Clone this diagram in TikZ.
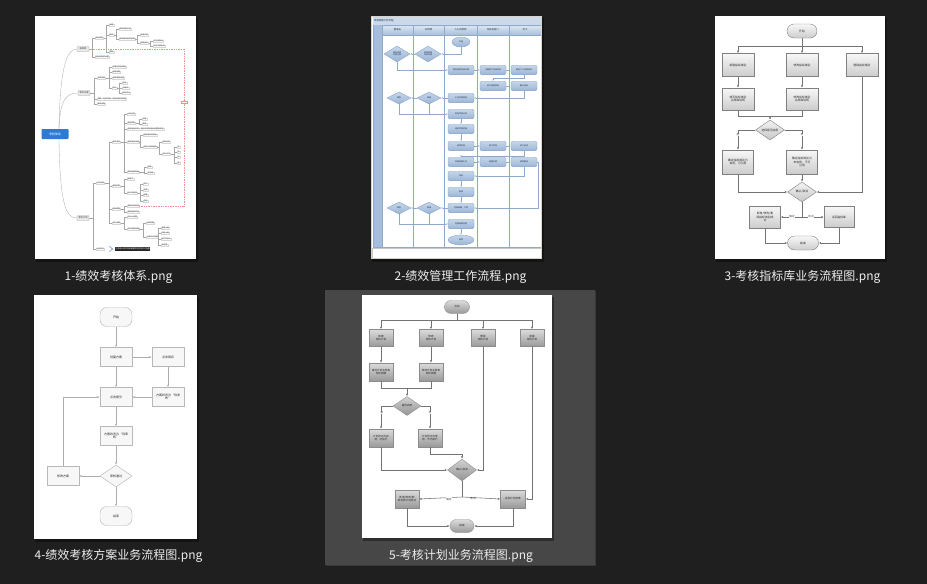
\documentclass[tikz,border=0pt]{standalone}
\usepackage{fontspec}
\setmainfont{Noto Sans CJK SC}
\usetikzlibrary{shapes.geometric,arrows.meta,calc}
\definecolor{bg}{HTML}{1F1F1F}
\definecolor{selbg}{HTML}{474747}
\definecolor{selbd}{HTML}{383838}
\definecolor{capcol}{HTML}{EDEDED}
\definecolor{lane}{HTML}{8FA9CB}
\definecolor{laneL}{HTML}{CBD9EB}
\definecolor{laneD}{HTML}{A6BEDB}
\definecolor{sboxT}{HTML}{C6D6EA}
\definecolor{sboxB}{HTML}{9BB5D6}
\definecolor{sboxD}{HTML}{86A2C7}
\definecolor{stext}{HTML}{1F3350}
\definecolor{frm}{HTML}{D6D3CC}
\definecolor{mmblue}{HTML}{2F7BD1}
\definecolor{mmred}{HTML}{F29090}
\newcommand\mmnode[5]{%
  \node[mml,anchor=west] (#2) at (#3,#4) {#5};
  \draw[mmln] (#1.east) -| ($(#2.west)+(-2.5,0)$) -- (#2.west);}
\begin{document}
\begin{tikzpicture}[x=1pt,y=-1pt,
  captxt/.style={text=capcol,font=\fontsize{12}{14}\selectfont,inner sep=0},
  ln/.style={draw=black!55,line width=0.55},
  arr/.style={ln,-{Latex[length=2.4,width=2]}},
  lbl/.style={font=\fontsize{2.6}{3}\selectfont,text=black!70,inner sep=0.3,fill=white},
  f5box/.style={rectangle,draw=black!45,line width=0.35,top color=black!14,bottom color=black!40,
    font=\fontsize{2.6}{3.1}\selectfont,text=black!85,align=center,inner sep=0.3,minimum width=24,minimum height=17},
  f5pill/.style={f5box,rounded corners=6.5,minimum width=25,minimum height=13},
  f5dia/.style={diamond,draw=black!45,line width=0.35,top color=black!18,bottom color=black!42,
    font=\fontsize{2.6}{3.1}\selectfont,text=black!85,align=center,inner sep=0,minimum width=28,minimum height=19},
  f3box/.style={rectangle,draw=black!50,line width=0.4,top color=black!3,bottom color=black!20,
    font=\fontsize{2.8}{3.3}\selectfont,text=black!85,align=center,inner sep=0.3,minimum width=32,minimum height=23},
  f3pill/.style={f3box,rounded corners=7,minimum width=30,minimum height=14},
  f3dia/.style={diamond,draw=black!50,line width=0.4,top color=black!5,bottom color=black!22,
    font=\fontsize{2.8}{3.3}\selectfont,text=black!85,align=center,inner sep=0,minimum width=29,minimum height=20},
  f4box/.style={rectangle,draw=black!28,line width=0.45,fill=black!3,
    font=\fontsize{3}{3.6}\selectfont,text=black!85,align=center,inner sep=0.3,minimum width=32,minimum height=19},
  f4pill/.style={f4box,rounded corners=7},
  f4dia/.style={f4box,diamond,minimum width=32,minimum height=22,inner sep=0},
  f4ln/.style={draw=black!32,line width=0.6,-{Latex[length=2.4,width=2]}},
  sbox/.style={rectangle,rounded corners=1.3,draw=sboxD,line width=0.35,top color=sboxT,bottom color=sboxB,
    font=\fontsize{2}{2.4}\selectfont,text=stext,align=center,inner sep=0.2,minimum width=26,minimum height=9.5},
  sell/.style={sbox,ellipse,minimum width=18,minimum height=10},
  sdia/.style={sbox,diamond,rounded corners=0,minimum width=26,minimum height=16,inner sep=0},
  sdias/.style={sdia,minimum width=24,minimum height=12},
  sln/.style={draw=lane,line width=0.5,-{Latex[length=1.6,width=1.3]}},
  slnn/.style={draw=lane,line width=0.5},
  shd/.style={font=\fontsize{2.4}{2.8}\selectfont,text=stext,inner sep=0},
  mml/.style={rectangle,draw=black!16,line width=0.25,fill=white,font=\fontsize{1.9}{2.2}\selectfont,
    text=black!65,inner xsep=0.4,inner ysep=0.35},
  mm1/.style={rectangle,rounded corners=0.8,draw=black!35,line width=0.3,fill=black!8,
    font=\fontsize{2.3}{2.6}\selectfont,text=black!80,minimum width=12,minimum height=5,inner sep=0.3},
  mmln/.style={draw=black!35,line width=0.3},
]
\fill[bg] (0,0) rectangle (927,584);
\useasboundingbox (0,0) rectangle (927,584);
% selection highlight
\fill[selbg] (325,290) rectangle (595,565);
\draw[selbd,line width=1] (595,290.5) -- (595,565) -- (325.5,565);
% thumbnails (shadow + page)
\foreach \a/\b/\c/\d in {35/16/196/259,371/16/542/259,715/16/885/259,34/295/197/539,362/295/552/538}{
  \fill[black,opacity=.35] (\a+1,\b+2) rectangle (\c+2,\d+3);
  \fill[white] (\a,\b) rectangle (\c,\d);}

% ================= 1: mind map =================
\node[rectangle,rounded corners=0.8,fill=mmblue,text=white,font=\fontsize{3}{3.4}\selectfont,
  minimum width=27,minimum height=10,inner sep=0] (mR) at (55,134) {考核体系};
\node[mm1] (mN1) at (83,49) {指标库};
\node[mm1] (mN2) at (84,93) {考核方案};
\node[mm1] (mN3) at (83,218) {考核计划};
\draw[mmln] ($(mR.north)+(4,0)$) .. controls (60,70) and (66,49) .. (mN1.west);
\draw[mmln] ($(mR.north)+(4,0)$) .. controls (60,100) and (66,93) .. (mN2.west);
\draw[mmln] ($(mR.south)+(4,0)$) .. controls (60,205) and (66,218) .. (mN3.west);
% N1
\mmnode{mN1}{ma1}{95}{38}{指标类别}
\mmnode{mN1}{ma2}{95}{57}{指标库权限设置}
\mmnode{ma1}{ma11}{109}{25}{新建}
\mmnode{ma1}{ma12}{109}{35}{修改}
\mmnode{ma1}{ma13}{109}{52}{删除}
\mmnode{ma12}{ma121}{119}{29}{修改类别名称}
\mmnode{ma12}{ma122}{119}{39}{修改指标类别说明}
\mmnode{ma122}{ma1221}{140}{35}{启用状态}
\mmnode{ma122}{ma1222}{140}{43}{停用状态}
\mmnode{ma1222}{ma12221}{153}{41}{可引用指标}
\mmnode{ma1222}{ma12222}{153}{46}{不可引用指标}
% N2
\mmnode{mN2}{mb1}{97}{78}{方案内容}
\mmnode{mN2}{mb2}{97}{99}{关联：考核对象、考核指标及权重}
\mmnode{mN2}{mb3}{97}{104}{审核流程}
\mmnode{mb1}{mb11}{112}{67}{方案名称及说明}
\mmnode{mb1}{mb12}{112}{72}{适用范围}
\mmnode{mb1}{mb13}{112}{78}{考核周期设置}
\mmnode{mb1}{mb14}{112}{88}{评分}
\mmnode{mb14}{mb141}{122}{83}{自评}
\mmnode{mb14}{mb142}{122}{88}{上级评}
\mmnode{mb14}{mb143}{122}{93}{综合评分}
% N3
\mmnode{mN3}{mc1}{96}{183}{计划内容}
\mmnode{mN3}{mc2}{96}{249}{计划执行}
\mmnode{mc1}{mc11}{112}{142}{基本信息}
\mmnode{mc1}{mc12}{112}{186}{考核对象}
\mmnode{mc1}{mc13}{112}{209}{考核周期}
\mmnode{mc1}{mc14}{112}{223}{评分设置}
\mmnode{mc11}{mc111}{127}{114}{计划名称}
\mmnode{mc11}{mc112}{127}{123}{考核类型}
\mmnode{mc11}{mc113}{127}{129}{考核指标名称、指标说明及指标权重等信息}
\mmnode{mc11}{mc114}{127}{142}{考核指标设置}
\mmnode{mc11}{mc115}{127}{172}{考核结果等级}
\mmnode{mc112}{mc1121}{142}{119}{月度}
\mmnode{mc112}{mc1122}{142}{124}{季度}
\mmnode{mc114}{mc1141}{143}{135}{选择指标库指标}
\mmnode{mc114}{mc1142}{143}{147}{自定义考核指标}
\mmnode{mc1142}{mc11421}{162}{142}{指标名称}
\mmnode{mc1142}{mc11422}{162}{154}{评分方式}
\mmnode{mc11422}{mc114221}{177}{147}{优}
\mmnode{mc11422}{mc114222}{177}{152}{良}
\mmnode{mc11422}{mc114223}{177}{157}{中}
\mmnode{mc11422}{mc114224}{177}{163}{差}
\mmnode{mc115}{mc1151}{147}{167}{合格}
\mmnode{mc115}{mc1152}{147}{173}{不合格}
\mmnode{mc12}{mc121}{127}{179}{按部门}
\mmnode{mc12}{mc122}{127}{193}{按人员选择}
\mmnode{mc122}{mc1221}{143}{184}{员工}
\mmnode{mc122}{mc1222}{143}{190}{主管}
\mmnode{mc122}{mc1223}{143}{195}{经理}
\mmnode{mc122}{mc1224}{143}{201}{总监}
\mmnode{mc13}{mc131}{127}{206}{考核开始时间}
\mmnode{mc13}{mc132}{127}{212}{考核结束时间}
\mmnode{mc14}{mc141}{127}{217}{评分人设置}
\mmnode{mc14}{mc142}{127}{229}{评分权重设置}
\mmnode{mc142}{mc1421}{146}{223}{自评权重}
\mmnode{mc142}{mc1422}{146}{237}{上级评分权重}
\mmnode{mc1422}{mc14221}{161}{228}{直接上级}
\mmnode{mc1422}{mc14222}{161}{233}{间接上级}
\mmnode{mc1422}{mc14223}{161}{239}{部门负责人}
\mmnode{mc1422}{mc14224}{161}{245}{总经理}
% relationship (red dashed)
\coordinate (mrc) at (184,128);
\draw[mmred,line width=0.35,dash pattern=on 1pt off 0.7pt] (mN1.east) -| (mrc) |- (mc131.east);
\node[rectangle,draw=mmred,line width=0.3,fill=white,font=\fontsize{1.9}{2.2}\selectfont,text=mmred,
  inner xsep=0.8,inner ysep=0.3] (mrl) at (184,102) {关联};
% summary brace + black box
\draw[mmblue,line width=0.45] (109.5,246.2) .. controls (111.5,246.2) and (110.5,249) .. (112.5,249)
  .. controls (110.5,249) and (111.5,251.8) .. (109.5,251.8);
\node[rectangle,fill=black!85,text=white,font=\fontsize{1.9}{2.2}\selectfont,minimum width=35,
  minimum height=4,inner sep=0.2,anchor=west] (msum) at (115,249) {已完成计划的考核结果即刻生效并可查看};

% ================= 2: swimlane =================
\fill[laneL] (372.5,17) rectangle (541,24.5);
\node[shd,anchor=west] (ttl2) at (374,20.8) {绩效管理工作流程};
\fill[laneD] (373,24.5) rectangle (382,247);
\shade[top color=laneL!60!white,bottom color=laneD] (382,25) rectangle (541,35);
\foreach \x in {382,413,444,477,509,541} \draw[lane,line width=0.6] (\x,25) -- (\x,247);
\draw[lane,line width=0.6] (373,247) -- (541,247) (382,35) -- (541,35) (382,25) -- (541,25) (373,24.5) -- (373,247);
\node[shd] (h1) at (397.5,30) {董事长};
\node[shd] (h2) at (428.5,30) {总经理};
\node[shd] (h3) at (460.5,30) {人力资源部};
\node[shd] (h4) at (493,30) {相关各部门};
\node[shd] (h5) at (525,30) {员工};
\draw[black!22,line width=0.6] (372.5,248.5) rectangle (541.5,258.5);
\draw[frm,line width=1.2] (371.6,16.6) rectangle (541.4,258.4);
\node[sell] (s2) at (461,42) {开始};
\node[sdia] (sd1) at (397,54) {审批绩效\\考核方案};
\node[sdia] (sd2) at (428,54) {审核绩效\\考核方案};
\node[sbox] (sb1) at (461,70) {制定绩效考核方案};
\node[sbox] (sb2) at (493,70) {分解部门考核目标};
\node[sbox] (sb3) at (524,70) {制定个人考核目标};
\node[sbox] (sb4) at (493,86) {部门审核目标};
\node[sbox] (sb5) at (524,86) {确认目标};
\node[sdias] (sd3) at (399,98) {审批};
\node[sdias] (sd4) at (429,98) {审核};
\node[sbox] (sb6) at (461,98) {汇总考核目标};
\node[sbox] (sb7) at (461,114) {发布考核计划};
\node[sbox] (sb8) at (461,129) {组织考核实施};
\node[sbox] (sb9) at (461,146) {绩效考核};
\node[sbox] (sb10) at (493,146) {部门考核};
\node[sbox] (sb11) at (524,146) {员工自评};
\node[sbox] (sb12) at (461,162) {考核结果汇总};
\node[sbox] (sb13) at (493,162) {结果反馈};
\node[sbox] (sb14) at (524,162) {绩效面谈};
\node[sbox] (sb15) at (461,176) {申诉};
\node[sbox] (sb16) at (461,192) {复核};
\node[sdias] (sd5) at (399,208) {审批};
\node[sdias] (sd6) at (429,208) {审核};
\node[sbox] (sb17) at (461,208) {考核结果、工资};
\node[sbox] (sb18) at (461,224) {考核结果应用};
\node[sell,minimum width=26] (se2) at (461,240) {结束};
\draw[sln] (s2.south) |- (sd2.east);
\draw[sln] (sd2) -- (sd1);
\draw[sln] (sd1.south) |- (sb1.west);
\draw[sln] (sb1) -- (sb2);
\draw[sln] (sb2) -- (sb3);
\coordinate (sk1) at (493,78);
\draw[sln] (sb3.south) |- (sk1) -- (sb4.north);
\draw[sln] (sb4) -- (sb5);
\draw[sln] (sb5.south) |- (sb6.east);
\draw[sln] (sb6) -- (sd4);
\draw[sln] (sd4) -- (sd3);
\draw[sln] (sd3.south) |- (sb7.west);
\draw[slnn] (sd4.south) -- ++(0,10);
\draw[sln] (sb7) -- (sb8);
\draw[sln] (sb8) -- (sb9);
\draw[sln] (sb9) -- (sb10);
\draw[sln] (sb10) -- (sb11);
\coordinate (sk2) at (461,156);
\draw[sln] (sb11.south) |- (sk2) -- (sb12.north);
\draw[sln] (sb12) -- (sb13);
\draw[sln] (sb13) -- (sb14);
\draw[sln] (sb14.south) |- (sb15.east);
\coordinate (sk3) at (538,162);
\draw[sln] (sb14.east) -- (sk3) |- (sb17.east);
\draw[sln] (sb15) -- (sb16);
\draw[sln] (sb16) -- (sb17);
\draw[sln] (sb17) -- (sd6);
\draw[sln] (sd6) -- (sd5);
\draw[sln] (sd5.south) |- (sb18.west);
\draw[slnn] (sd6.south) -- ++(0,10);
\draw[sln] (sb18) -- (se2);

% ================= 3: indicator library flow =================
\node[f3pill] (s3) at (802,31) {开始};
\coordinate (j3) at (802,46);
\node[f3box] (t1) at (738,65) {新建指标类别};
\node[f3box] (t2) at (802,65) {修改指标类别};
\node[f3box] (t3) at (862,65) {删除指标类别};
\node[f3box,minimum height=22] (t4) at (738,99) {填写指标类别\\名称和说明};
\node[f3box,minimum height=22] (t5) at (802,99) {修改指标类别\\名称和说明};
\coordinate (k3) at (770,116);
\node[f3dia] (dd1) at (770,130) {选择是否启用};
\node[f3box,minimum width=31,minimum height=24] (t6) at (738,162) {确定指标类别为\\启用，可引用};
\node[f3box,minimum width=31,minimum height=24] (t7) at (802,162) {确定指标类别为\\未启用，不可\\引用};
\node[f3dia] (dd2) at (802,192) {确认/取消};
\coordinate (r3) at (802,217);
\node[f3box,minimum width=31,minimum height=22] (t8) at (765,217) {新增/修改/删\\除指标类别成\\功};
\node[f3box,minimum width=30,minimum height=21] (t9) at (839,217) {返回指标库};
\node[f3pill,minimum width=31] (e3) at (803,243) {结束};
\draw[ln] (s3) -- (j3);
\draw[arr] (j3) -| (t1);
\draw[arr] (j3) -- (t2);
\draw[arr] (j3) -| (t3);
\draw[arr] (t1) -- (t4);
\draw[arr] (t2) -- (t5);
\draw[ln] (t4) |- (k3);
\draw[ln] (t5) |- (k3);
\draw[arr] (k3) -- (dd1);
\draw[arr] (dd1.west) -| (t6);
\draw[arr] (dd1.east) -| (t7);
\node[lbl] (l31) at (738,135) {是};
\node[lbl] (l32) at (802,135) {否};
\draw[arr] (t6) |- (dd2.west);
\draw[arr] (t7) -- (dd2);
\draw[arr] (t3) |- (dd2.east);
\draw[ln] (dd2) -- (r3);
\draw[arr] (r3) -- (t8.east);
\draw[arr] (r3) -- (t9.west);
\node[lbl] (l33) at (792,217) {确定};
\node[lbl] (l34) at (811,217) {取消};
\draw[arr] (t8) |- (e3.west);
\draw[arr] (t9) |- (e3.east);

% ================= 4: scheme flow =================
\node[f4pill] (u0) at (116,317) {开始};
\node[f4box] (u1) at (116,357) {创建方案};
\node[f4box] (u2) at (168,357) {点击保存};
\node[f4box] (u3) at (168,397) {方案状态为“待发\\布”};
\node[f4box] (u4) at (116,397) {点击提交};
\node[f4box] (u5) at (116,436) {方案状态为“待审\\核”};
\node[f4dia] (u6) at (116,476) {审核通过};
\node[f4box] (u7) at (63,476) {修改方案};
\node[f4pill] (u8) at (116,516) {结束};
\draw[f4ln] (u0) -- (u1);
\draw[f4ln] (u1) -- (u2);
\draw[f4ln] (u2) -- (u3);
\draw[f4ln] (u3) -- (u4);
\draw[f4ln] (u1) -- (u4);
\draw[f4ln] (u4) -- (u5);
\draw[f4ln] (u5) -- (u6);
\draw[f4ln] (u6) -- (u7);
\draw[f4ln] (u7.north) |- (u4.west);
\draw[f4ln] (u6) -- (u8);

% ================= 5: plan flow =================
\node[f5pill] (f5s) at (457,307) {开始};
\coordinate (f5j) at (457,320);
\node[f5box] (f5a) at (381,338) {新建\\考核计划};
\node[f5box] (f5b) at (431,338) {修改\\考核计划};
\node[f5box] (f5c) at (483,338) {删除\\考核计划};
\node[f5box] (f5d) at (532,338) {查看\\考核计划};
\node[f5box,minimum height=18] (f5e) at (381,372) {填写计划名称和\\考核周期};
\node[f5box,minimum height=18] (f5f) at (431,372) {修改计划名称和\\考核周期};
\coordinate (f5k) at (407,388);
\node[f5dia] (f5g) at (407,406) {是否启用};
\node[f5box,minimum height=18] (f5h) at (381,438) {计划状态为启\\用，可执行};
\node[f5box,minimum height=18] (f5i) at (430,438) {计划状态为停\\用，不可执行};
\node[f5dia,minimum width=29,minimum height=22] (f5m) at (462,470) {确认/取消};
\coordinate (f5n) at (462,454);
\coordinate (f5r) at (462,497);
\node[f5box,minimum height=18] (f5p) at (407,499) {新增/修改/删\\除考核计划成功};
\node[f5box,minimum width=25,minimum height=18] (f5q) at (513,499) {返回计划列表};
\node[f5pill,minimum width=24] (f5z) at (462,526) {结束};
\draw[ln] (f5s) -- (f5j);
\draw[arr] (f5j) -| (f5a);
\draw[arr] (f5j) -| (f5b);
\draw[arr] (f5j) -| (f5c);
\draw[arr] (f5j) -| (f5d);
\draw[arr] (f5a) -- (f5e);
\draw[arr] (f5b) -- (f5f);
\draw[ln] (f5e) |- (f5k);
\draw[ln] (f5f) |- (f5k);
\draw[arr] (f5k) -- (f5g);
\draw[arr] (f5g.west) -| (f5h);
\draw[arr] (f5g.east) -| (f5i);
\node[lbl] (l51) at (382,413) {是};
\node[lbl] (l52) at (430,413) {否};
\draw[arr] (f5h) |- (f5m.west);
\draw[arr] (f5i.south) |- (f5n) -- (f5m.north);
\draw[arr] (f5c) |- (f5m.east);
\draw[arr] (f5d) |- (f5q.east);
\draw[ln] (f5m) -- (f5r);
\draw[arr] (f5r) -- (f5p.east);
\draw[arr] (f5r) -- (f5q.west);
\node[lbl] (l53) at (449,499) {确定};
\node[lbl] (l54) at (473,499) {取消};
\draw[arr] (f5p) |- (f5z.west);
\draw[arr] (f5q) |- (f5z.east);

% ================= captions =================
\node[captxt] (c1) at (118.5,277) {1-绩效考核体系.png};
\node[captxt] (c2) at (460.5,277) {2-绩效管理工作流程.png};
\node[captxt] (c3) at (802.5,277) {3-考核指标库业务流程图.png};
\node[captxt] (c4) at (118.5,556) {4-绩效考核方案业务流程图.png};
\node[captxt] (c5) at (461,556) {5-考核计划业务流程图.png};
\end{tikzpicture}
\end{document}
